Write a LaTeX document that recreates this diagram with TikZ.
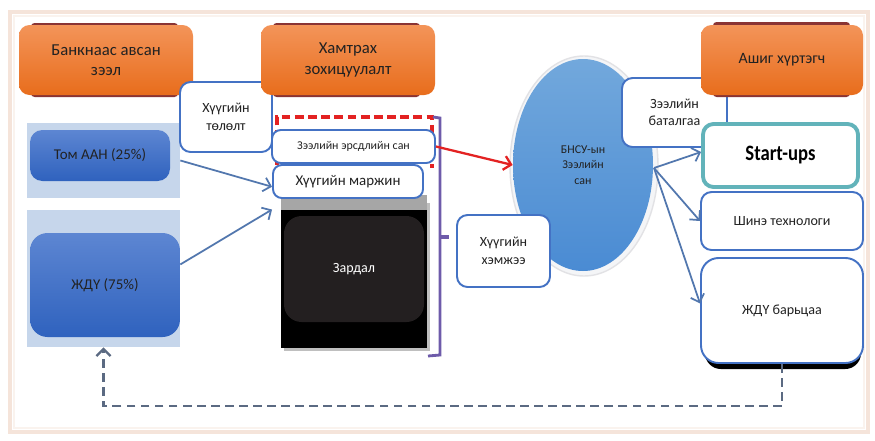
\documentclass[tikz,border=0pt]{standalone}
\usepackage{fontspec}
\setmainfont{Carlito}
\newfontfamily\condfont[FakeStretch=0.85]{Carlito}
\usetikzlibrary{arrows.meta,shapes.geometric}
\definecolor{orA}{HTML}{F39459}
\definecolor{orB}{HTML}{E86D1C}
\definecolor{orSh}{HTML}{8A3434}
\definecolor{blA}{HTML}{5D86D2}
\definecolor{blB}{HTML}{2F62BE}
\definecolor{bgBl}{HTML}{C6D6EB}
\definecolor{bdBl}{HTML}{4472C4}
\definecolor{lnBl}{HTML}{5277AE}
\definecolor{elA}{HTML}{72A8DC}
\definecolor{elB}{HTML}{4A8BD3}
\definecolor{tealc}{HTML}{62B3BA}
\definecolor{purp}{HTML}{6E5BAA}
\definecolor{redA}{HTML}{E32222}
\definecolor{frm}{HTML}{F5E4DA}
\definecolor{txt}{HTML}{222222}
\definecolor{dashc}{HTML}{5B6A82}
\tikzset{
  sz/.style 2 args={minimum width=#1*0.02cm, minimum height=#2*0.02cm, inner sep=0pt},
  orbox/.style={rounded corners=6pt, top color=orA, bottom color=orB, draw=none,
    text=txt, align=center, font=\fontsize{9.5}{11.5}\selectfont},
  orshadow/.style={fill=orSh, rounded corners=2pt},
  blbox/.style={rounded corners=7pt, top color=blA, bottom color=blB, draw=none,
    text=txt, align=center, font=\fontsize{8.5}{10}\selectfont},
  bgrect/.style={fill=bgBl, draw=none},
  wbox/.style={rounded corners=6pt, fill=white, draw=bdBl, line width=1.1pt,
    text=txt, align=center, font=\fontsize{8}{10}\selectfont},
  conn/.style={draw=lnBl, line width=1pt, -{Straight Barb[length=4pt,width=8pt]}},
}
\begin{document}
\begin{tikzpicture}[x=0.02cm,y=-0.02cm]
\useasboundingbox (0,0) rectangle (875,440);
\fill[white] (0,0) rectangle (875,440);
% outer frame
\draw[frm, line width=1.8pt] (10,12) rectangle (868,432);
\draw[frm!45, line width=0.8pt] (14,16) rectangle (864,428);

% left column
\node[bgrect, sz={153}{75}] (bg1) at (103.5,160.5) {};
\node[blbox, sz={140}{51}] (tom) at (100,155.5) {Том ААН (25\%)};
\node[bgrect, sz={153}{137}] (bg2) at (103.5,278.5) {};
\node[blbox, sz={150}{104}, rounded corners=10pt] (jdu) at (105,285) {ЖДҮ (75\%)};

% orange header 1
\fill[orshadow] (31,23) rectangle (178,97);
\node[orbox, sz={174}{70}] (bank) at (106,60) {Банкнаас авсан\\зээл};

% middle column
\fill[black!25] (284,203) rectangle (430,351);
\fill[gray!70] (281,195) rectangle (427,210);
\node[fill=black, sz={146}{138}] (blk) at (354,279) {};
\node[rounded corners=10pt, fill={rgb,255:red,35;green,31;blue,32}, sz={140}{106},
  text=white, font=\fontsize{8}{10}\selectfont] (zardal) at (354,269) {Зардал};
\draw[redA, line width=2pt, dash pattern=on 5pt off 2.5pt] (277,165) -- (277,117) -- (432,117) -- (432,168);
\node[wbox, sz={163}{33}, rounded corners=5pt, font=\fontsize{6.8}{8}\selectfont] (ersdel) at (353.5,146.5) {Зээлийн эрсдлийн сан};
\node[wbox, sz={150}{33}, rounded corners=5pt, font=\fontsize{8.5}{10}\selectfont] (marjin) at (348,181.5) {Хүүгийн маржин};
\draw[purp, line width=1.6pt] (433,117) -- (440,118) -- (440,355) -- (428,356);
\draw[purp, line width=2.2pt] (440,237) -- (449,237);

\node[wbox, sz={92}{70}] (tolol) at (226,117) {Хүүгийн\\төлөлт};

% orange header 2
\fill[orshadow] (273,23) rectangle (420,97);
\node[orbox, sz={174}{70}] (hamt) at (348,60) {Хамтрах\\зохицуулалт};

% ellipse
\node[ellipse, fill={rgb,255:red,244;green,245;blue,247}, draw={rgb,255:red,226;green,226;blue,229}, line width=0.8pt, sz={148}{220}] (halo) at (584,166) {};
\node[ellipse, top color=elA, bottom color=elB, draw=none, sz={140}{212},
  align=center, text=txt, font=\fontsize{6.8}{9}\selectfont] (bnsu) at (583,165) {БНСУ-ын\\Зээлийн\\сан};
\node[wbox, sz={93}{72}] (hemjee) at (503.5,251) {Хүүгийн\\хэмжээ};
\node[wbox, sz={105}{69}] (batal) at (674.5,112.5) {Зээлийн\\баталгаа};

% right column
\fill[orshadow] (713,22) rectangle (850,97);
\node[orbox, sz={162}{70}, font=\fontsize{9}{11}\selectfont] (ashig) at (782,60) {Ашиг хүртэгч};
\node[rounded corners=6pt, fill=white, draw=tealc, line width=2.2pt, sz={155}{63},
  text=black, font=\condfont\bfseries\fontsize{12.5}{14}\selectfont] (start) at (780.5,155.5) {Start-ups};
\node[wbox, sz={162}{58}] (shine) at (782,221) {Шинэ технологи};
\fill[black, rounded corners=9pt] (705,261) rectangle (861,369);
\node[wbox, sz={162}{105}, rounded corners=10pt] (barits) at (782,310.5) {ЖДҮ барьцаа};

% connectors
\draw[conn] (bg1.east) -- ([yshift=-3pt]marjin.west);
\draw[conn] ([yshift=8pt]bg2.east) -- ([yshift=-6pt]marjin.south west);
\draw[redA, line width=1.3pt, -{Straight Barb[length=4pt,width=8pt]}] (ersdel.east) -- (bnsu.west);
\coordinate (fan) at (654,168);
\draw[conn] (fan) -- ([yshift=2pt]start.west);
\draw[conn] (fan) -- (shine.west);
\draw[conn] (fan) -- ([yshift=4pt]barits.west);
\draw[dashc, line width=1.3pt, dash pattern=on 5pt off 3pt, -{Straight Barb[length=4pt,width=8pt]}]
  (barits.south) -- (782,406) -- (103.5,406) -- (bg2.south);
\end{tikzpicture}
\end{document}
